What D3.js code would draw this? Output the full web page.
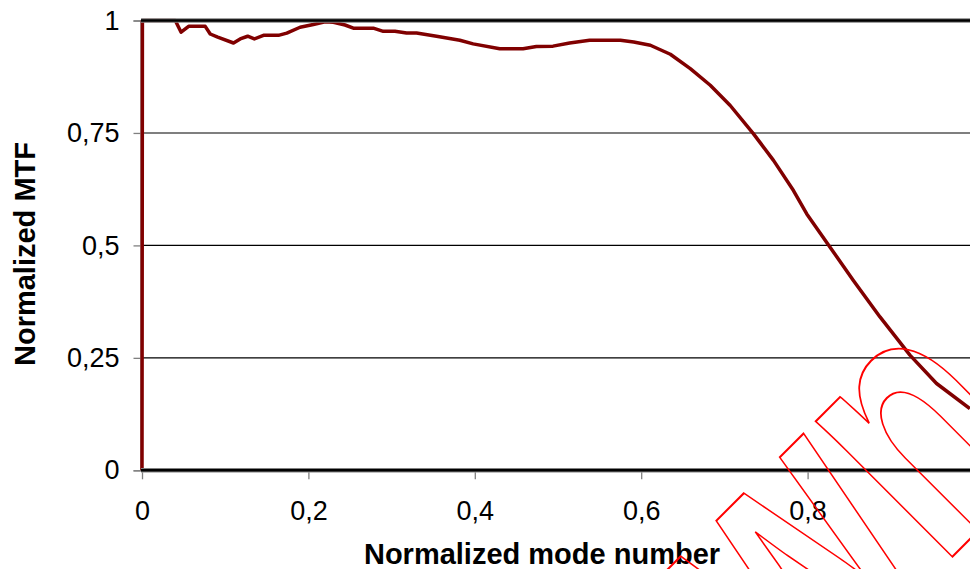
<!DOCTYPE html>
<html>
<head>
<meta charset="utf-8">
<script src="https://cdn.jsdelivr.net/npm/d3@7"></script>
<style>
  html, body { margin: 0; padding: 0; background: #fff; overflow: hidden; }
  svg { display: block; font-family: "Liberation Sans", Arial, sans-serif; }
</style>
</head>
<body>
<div id="chart"></div>
<script>
// Values.
const modeNumber = [0, 0.0005, 0.040, 0.047, 0.056, 0.076, 0.082, 0.091, 0.110, 0.118, 0.127, 0.135, 0.146, 0.164,
    0.174, 0.190, 0.206, 0.220, 0.230, 0.244, 0.254, 0.278, 0.290, 0.304, 0.318, 0.330, 0.354, 0.382, 0.398,
    0.430, 0.458, 0.474, 0.494, 0.514, 0.538, 0.575, 0.591, 0.611, 0.635, 0.659, 0.683, 0.707, 0.735, 0.759,
    0.783, 0.799, 0.827, 0.855, 0.887, 0.923, 0.955, 0.995];
const mtf = [0, 1, 1, 0.974, 0.987, 0.987, 0.970, 0.963, 0.950, 0.959, 0.965, 0.959, 0.967, 0.967,
    0.972, 0.985, 0.991, 0.997, 0.996, 0.990, 0.983, 0.983, 0.976, 0.976, 0.972, 0.972, 0.965, 0.956, 0.948,
    0.937, 0.937, 0.942, 0.943, 0.950, 0.956, 0.956, 0.952, 0.945, 0.925, 0.893, 0.856, 0.811, 0.748, 0.689,
    0.622, 0.570, 0.496, 0.422, 0.341, 0.256, 0.193, 0.137];
const xTicks = [0, 0.2, 0.4, 0.6, 0.8];
const yTicks = [0, 0.25, 0.5, 0.75, 1];
const gridValues = [0.25, 0.5, 0.75];
const xTitle = 'Normalized mode number';
const yTitle = 'Normalized MTF';
const watermark = 'Unknown';

const width = 970, height = 569;
const data = modeNumber.map((d, i) => ({x: d, y: mtf[i]}));

const svg = d3.select('#chart')
    .append('svg')
        .attr('width', width)
        .attr('height', height);

// Scales (x = 1 lands just past the right edge).
const x = d3.scaleLinear().domain([0, 1]).range([142, 974]);
const y = d3.scaleLinear().domain([0, 1]).range([470.3, 20.5]);
const fmt = d => String(d).replace('.', ',');

// Gridlines.
svg.append('g')
    .selectAll('line')
    .data(gridValues)
    .enter()
    .append('line')
        .attr('x1', x(0))
        .attr('x2', width)
        .attr('y1', d => y(d))
        .attr('y2', d => y(d))
        .attr('stroke', '#000')
        .attr('stroke-width', 1.1);

// Y axis.
const yGroup = svg.append('g')
    .attr('transform', 'translate(140.5,0)')
    .call(d3.axisLeft(y).tickValues(yTicks).tickSize(7).tickPadding(14).tickFormat(fmt));
yGroup.select('.domain').attr('stroke', '#808080').attr('stroke-width', 1.3);
yGroup.selectAll('.tick line').attr('stroke', '#808080').attr('stroke-width', 1.3);
yGroup.selectAll('text')
    .style('font-size', '27px')
    .style('font-family', '"Liberation Sans", Arial, sans-serif')
    .attr('fill', '#000');

// The curve.
const line = d3.line().x(d => x(d.x)).y(d => y(d.y));
svg.append('path')
    .datum(data)
    .attr('d', line)
    .attr('fill', 'none')
    .attr('stroke', '#800000')
    .attr('stroke-width', 3.5)
    .attr('stroke-linejoin', 'round');

// Thick top border and x axis line.
[1, 0].forEach(v => {
    svg.append('line')
        .attr('x1', x(0) - 1).attr('x2', width)
        .attr('y1', y(v)).attr('y2', y(v))
        .attr('stroke', '#808080').attr('stroke-width', 4.5);
    svg.append('line')
        .attr('x1', x(0) - 1).attr('x2', width)
        .attr('y1', y(v)).attr('y2', y(v))
        .attr('stroke', '#000').attr('stroke-width', 2.6);
});

// X axis ticks and labels.
const xGroup = svg.append('g')
    .attr('transform', `translate(0,${y(0) + 2})`)
    .call(d3.axisBottom(x).tickValues(xTicks).tickSize(7).tickFormat(fmt));
xGroup.select('.domain').remove();
xGroup.selectAll('.tick line').attr('stroke', '#808080').attr('stroke-width', 1.3);
xGroup.selectAll('text')
    .attr('y', 48)
    .attr('dy', 0)
    .style('font-size', '27px')
    .style('font-family', '"Liberation Sans", Arial, sans-serif')
    .attr('fill', '#000');

// Axis titles.
svg.append('text')
    .attr('x', 542)
    .attr('y', 564)
    .attr('text-anchor', 'middle')
    .style('font-size', '29px')
    .style('font-weight', 'bold')
    .text(xTitle);
svg.append('text')
    .attr('transform', 'translate(35,254)rotate(-90)')
    .attr('text-anchor', 'middle')
    .style('font-size', '29px')
    .style('font-weight', 'bold')
    .text(yTitle);

// Outlined watermark crossing the lower right corner.
svg.append('text')
    .attr('transform', 'translate(1054,455)rotate(-45)scale(0.73,1)')
    .attr('text-anchor', 'end')
    .style('font-size', '364px')
    .style('font-weight', 'bold')
    .attr('fill', 'none')
    .attr('stroke', '#ff0000')
    .attr('stroke-width', 1.8)
    .attr('vector-effect', 'non-scaling-stroke')
    .text(watermark);
</script>
</body>
</html>
